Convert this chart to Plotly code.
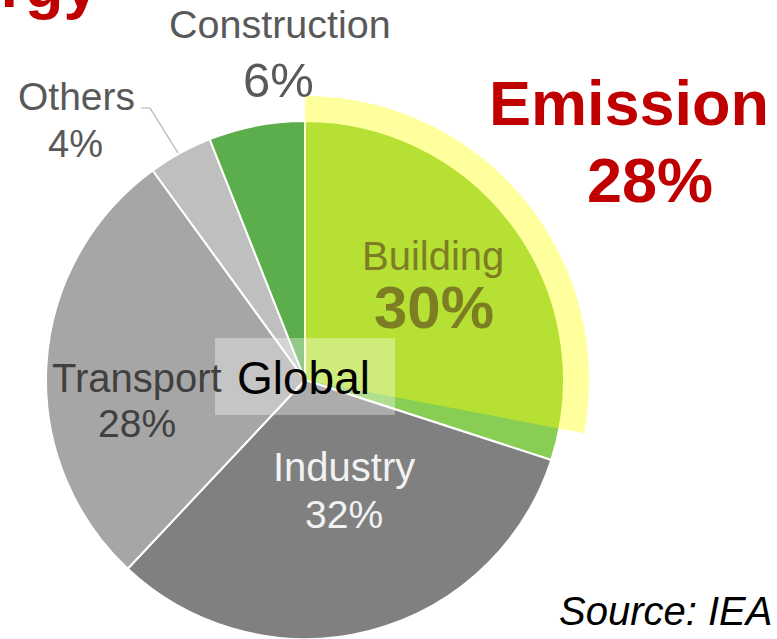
import numpy as np
import plotly.graph_objects as go

# ---- data ----
sectors = ["Building", "Industry", "Transport", "Others", "Construction"]
shares = [30, 32, 28, 4, 6]
emission_label = "Emission"
emission_share = 28
center_label = "Global"
source_text = "Source: IEA"
title_fragment = "Energy"

colors = ["#89ce54", "#808080", "#a6a6a6", "#bfbfbf", "#5cad4c"]

W, H = 777, 639
FONT = "Liberation Sans, Arial, sans-serif"

# pie geometry (pixels)
cx, cy, R = 305, 380, 259
R_over = 284


def px(x):
    return x / W


def py(y):
    return 1 - y / H


fig = go.Figure()
fig.add_trace(go.Pie(
    labels=sectors, values=shares, sort=False, direction="clockwise", rotation=0,
    marker=dict(colors=colors, line=dict(color="white", width=2)),
    textinfo="none", hoverinfo="label+percent", showlegend=False,
    domain=dict(x=[px(cx - R), px(cx + R)], y=[py(cy + R), py(cy - R)]),
))

# emission highlight sector, derived from emission share
ang = np.linspace(0, 2 * np.pi * emission_share / 100, 80)
pts = [(cx + R_over * np.sin(a), cy - R_over * np.cos(a)) for a in ang]
path = f"M {px(cx)},{py(cy)} " + " ".join(f"L {px(x)},{py(y)}" for x, y in pts) + " Z"

shapes = [
    dict(type="path", path=path, xref="paper", yref="paper",
         fillcolor="rgba(255,255,0,0.38)", line=dict(width=0), layer="above"),
    dict(type="rect", xref="paper", yref="paper", x0=px(215), x1=px(395), y0=py(415), y1=py(338),
         fillcolor="rgba(255,255,255,0.35)", line=dict(width=0), layer="above"),
    dict(type="path", xref="paper", yref="paper",
         path=f"M {px(141)},{py(108)} L {px(150)},{py(108)} L {px(178)},{py(153)}",
         line=dict(color="#b0b0b0", width=1.2), layer="above"),
]

ann = []


def label(text, x, y, size, color, bold=False, italic=False, xanchor="center"):
    t = f"<b>{text}</b>" if bold else text
    t = f"<i>{t}</i>" if italic else t
    ann.append(dict(text=t, x=px(x), y=py(y), xref="paper", yref="paper",
                    xanchor=xanchor, yanchor="middle", showarrow=False,
                    font=dict(family=FONT, size=size, color=color)))


# sector labels
label(sectors[0], 433, 256, 40, "#7d7d24")
label(f"{shares[0]}%", 434, 307, 60, "#7d7d24", bold=True)
label(sectors[1], 344, 467, 40, "#f2f2f2")
label(f"{shares[1]}%", 344, 514, 39, "#f2f2f2")
label(sectors[2], 137, 378, 40, "#404040")
label(f"{shares[2]}%", 137, 423, 39, "#404040")
label(sectors[3], 76, 97, 39, "#595959")
label(f"{shares[3]}%", 75, 144, 38, "#595959")
label(sectors[4], 280, 24, 39.5, "#595959")
label(f"{shares[4]}%", 278, 80, 49, "#595959")

# other text
label(emission_label, 629, 103, 63, "#c00000", bold=True)
label(f"{emission_share}%", 650, 180, 63, "#c00000", bold=True)
label(center_label, 303, 378, 46, "#000000")
label(source_text, 557, 611, 40, "#000000", italic=True, xanchor="left")
label(title_fragment, 101, -15, 63, "#c00000", bold=True, xanchor="right")

fig.update_layout(
    width=W, height=H, margin=dict(l=0, r=0, t=0, b=0),
    paper_bgcolor="white", plot_bgcolor="white",
    shapes=shapes, annotations=ann, showlegend=False,
)

fig.write_html("out.html")
